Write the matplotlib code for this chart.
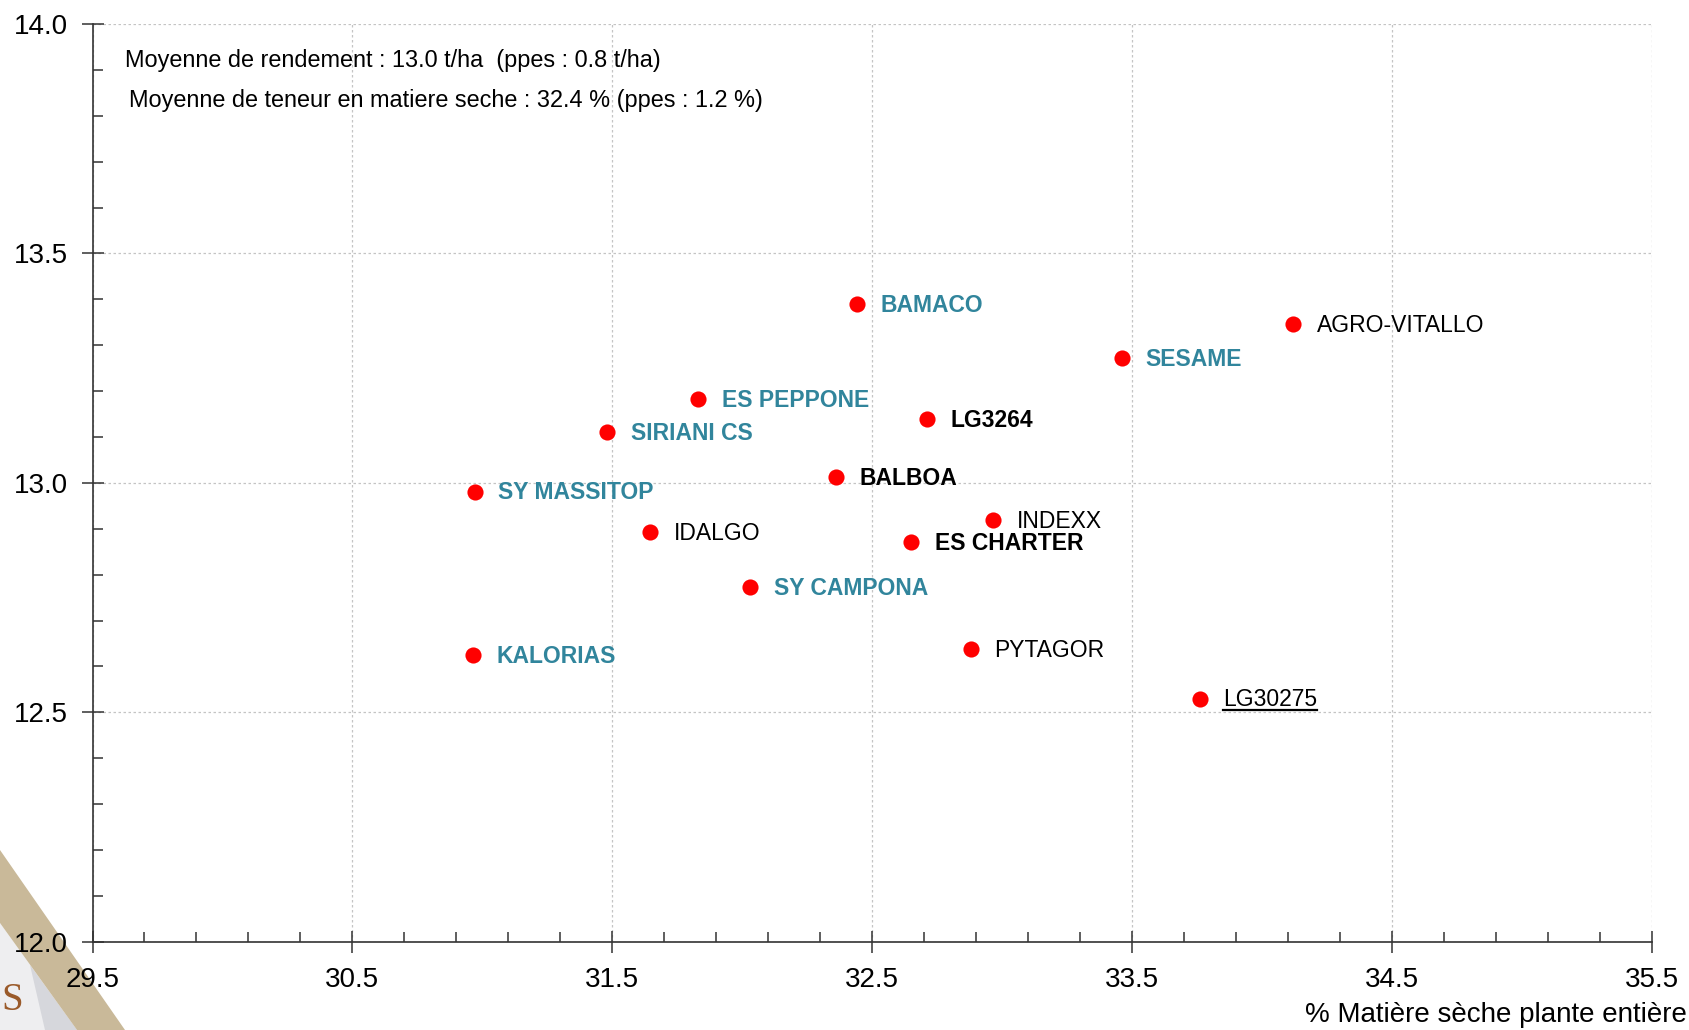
import matplotlib.pyplot as plt
from matplotlib.ticker import MultipleLocator, FormatStrFormatter
from matplotlib.patches import Polygon
from matplotlib.lines import Line2D

# data
varietes = ['BAMACO', 'AGRO-VITALLO', 'SESAME', 'ES PEPPONE', 'SIRIANI CS',
            'LG3264', 'BALBOA', 'SY MASSITOP', 'IDALGO', 'INDEXX',
            'ES CHARTER', 'SY CAMPONA', 'KALORIAS', 'PYTAGOR', 'LG30275']
ms_pct = [32.44, 34.12, 33.46, 31.83, 31.48,
          32.71, 32.36, 30.97, 31.645, 32.965,
          32.65, 32.03, 30.965, 32.88, 33.76]
rendement = [13.39, 13.347, 13.272, 13.183, 13.110,
             13.139, 13.012, 12.981, 12.892, 12.918,
             12.871, 12.772, 12.624, 12.638, 12.530]

moy_rdt = 'Moyenne de rendement : 13.0 t/ha  (ppes : 0.8 t/ha)'
moy_ms = 'Moyenne de teneur en matiere seche : 32.4 % (ppes : 1.2 %)'
x_titre = '% Matière sèche plante entière'

# label groups
teal_bold = {'BAMACO', 'SESAME', 'ES PEPPONE', 'SIRIANI CS', 'SY MASSITOP',
             'SY CAMPONA', 'KALORIAS'}
black_bold = {'LG3264', 'BALBOA', 'ES CHARTER'}
souligne = {'LG30275'}

TEAL = '#31859c'
plt.rcParams['font.family'] = ['Liberation Sans', 'DejaVu Sans']

fig = plt.figure(figsize=(16.89, 10.30), dpi=100)
ax = fig.add_axes([0.05477, 0.08573, 0.92314, 0.89097])

ax.scatter(ms_pct, rendement, s=135, color='#ff0000', zorder=3, linewidths=0)

labels = []
for nom, x, y in zip(varietes, ms_pct, rendement):
    if nom in teal_bold:
        c, w = TEAL, 'bold'
    elif nom in black_bold:
        c, w = 'black', 'bold'
    else:
        c, w = 'black', 'normal'
    t = ax.annotate(nom, (x, y), xytext=(17, -1), textcoords='offset points',
                    ha='left', va='center', fontsize=16.5, color=c,
                    fontweight=w, zorder=4)
    labels.append((nom, t))

ax.set_xlim(29.5, 35.5)
ax.set_ylim(12.0, 14.0)
ax.xaxis.set_major_locator(MultipleLocator(1.0, offset=0.5))
ax.xaxis.set_minor_locator(MultipleLocator(0.2, offset=0.1))
ax.yaxis.set_major_locator(MultipleLocator(0.5))
ax.yaxis.set_minor_locator(MultipleLocator(0.1))
ax.xaxis.set_major_formatter(FormatStrFormatter('%.1f'))
ax.yaxis.set_major_formatter(FormatStrFormatter('%.1f'))
ax.tick_params(which='major', direction='inout', length=16, width=1.1,
               color='#333333', labelsize=20, pad=10)
ax.tick_params(which='minor', direction='in', length=7, width=1.1,
               color='#333333')

ax.grid(True, which='major', color='#c4c4c4', linestyle=(0, (2, 2)),
        linewidth=0.9)
ax.set_axisbelow(True)
for s in ['top', 'right']:
    ax.spines[s].set_visible(False)
for s in ['left', 'bottom']:
    ax.spines[s].set_color('#333333')
    ax.spines[s].set_linewidth(1.2)

ax.text(0.0208, 0.9605, moy_rdt, transform=ax.transAxes, fontsize=16.9,
        va='center', ha='left')
ax.text(0.0234, 0.9165, moy_ms, transform=ax.transAxes, fontsize=16.9,
        va='center', ha='left')

fig.text(0.9985, 1 - 1015 / 1030, x_titre, fontsize=20, ha='right',
         va='center')

# logo corner in bottom-left, behind the axes
W, H = 1689, 1030
def pts(lst):
    return [(px / W, 1 - py / H) for px, py in lst]

fig.patches.append(Polygon(pts([(0, 923), (77, 1030), (0, 1030)]),
                           closed=True, transform=fig.transFigure,
                           facecolor='#eeeef0', edgecolor='none', zorder=-2))
fig.patches.append(Polygon(pts([(30, 965), (77, 1030), (45, 1030)]),
                           closed=True, transform=fig.transFigure,
                           facecolor='#d6d7dc', edgecolor='none', zorder=-2))
fig.patches.append(Polygon(pts([(0, 850), (125, 1030), (77, 1030), (0, 923)]),
                           closed=True, transform=fig.transFigure,
                           facecolor='#c9b999', edgecolor='none', zorder=-1))
fig.text(0.001, 1 - 1000 / H, 'S', fontsize=28, family='Liberation Serif',
         color='#9a5a2a', ha='left', va='center', zorder=-1)

# underline
fig.canvas.draw()
r = fig.canvas.get_renderer()
for nom, t in labels:
    if nom in souligne:
        bb = t.get_window_extent(renderer=r)
        yb = bb.y0 + 1
        fig.lines.append(Line2D([bb.x0 / W, bb.x1 / W], [yb / H, yb / H],
                                transform=fig.transFigure, color='black',
                                linewidth=1.6))

fig.savefig('out.png', dpi=100)
